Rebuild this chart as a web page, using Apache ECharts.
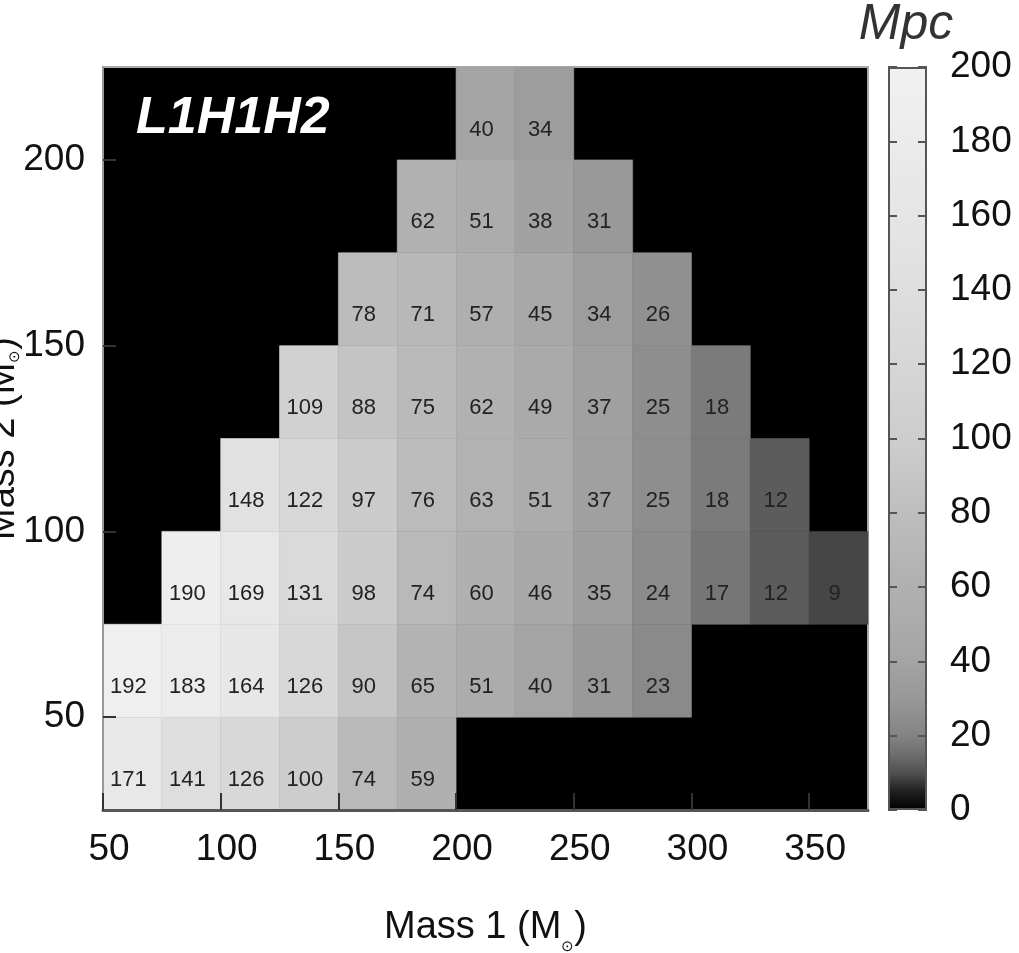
<!DOCTYPE html>
<html>
<head>
<meta charset="utf-8">
<script src="https://cdn.jsdelivr.net/npm/echarts@6/dist/echarts.min.js"></script>
<style>
  html, body { margin: 0; padding: 0; background: #fff; }
  #chart { width: 1019px; height: 953px; }
</style>
</head>
<body>
<div id="chart"></div>
<script>
// Detection range (Mpc) on a grid of component masses, 25 Msun bins.
// Each row lists Mass 2 bin centre, the first Mass 1 bin centre, and the values.
const mass2Centers = [37.5, 62.5, 87.5, 112.5, 137.5, 162.5, 187.5, 212.5];
const rowFirstMass1 = [62.5, 62.5, 87.5, 112.5, 137.5, 162.5, 187.5, 212.5];
const row375 = [171, 141, 126, 100, 74, 59];
const row625 = [192, 183, 164, 126, 90, 65, 51, 40, 31, 23];
const row875 = [190, 169, 131, 98, 74, 60, 46, 35, 24, 17, 12, 9];
const row1125 = [148, 122, 97, 76, 63, 51, 37, 25, 18, 12];
const row1375 = [109, 88, 75, 62, 49, 37, 25, 18];
const row1625 = [78, 71, 57, 45, 34, 26];
const row1875 = [62, 51, 38, 31];
const row2125 = [40, 34];
const rowValues = [row375, row625, row875, row1125, row1375, row1625, row1875, row2125];

const binWidth = 25;
const xTicks = [50, 100, 150, 200, 250, 300, 350];
const yTicks = [50, 100, 150, 200];
const colorbarTicks = [0, 20, 40, 60, 80, 100, 120, 140, 160, 180, 200];

// Build [mass1, mass2, range] cells
const cells = [];
rowValues.forEach((vals, r) => {
  vals.forEach((v, i) => {
    cells.push([rowFirstMass1[r] + i * binWidth, mass2Centers[r], v]);
  });
});

// Grey palette (non-linear, steep near zero)
const grayAnchors = [[0,0],[5,32],[10,80],[15,110],[20,131],[30,152],[40,164],[50,171],[60,176],[75,186],[90,198],[100,205],[125,216],[150,226],[175,234],[200,241]];
function grayAt(v) {
  for (let i = 1; i < grayAnchors.length; i++) {
    const [v0, g0] = grayAnchors[i - 1], [v1, g1] = grayAnchors[i];
    if (v <= v1) return g0 + (g1 - g0) * (v - v0) / (v1 - v0);
  }
  return grayAnchors[grayAnchors.length - 1][1];
}
function grayHex(g) {
  const h = Math.round(g).toString(16).padStart(2, '0');
  return '#' + h + h + h;
}
const paletteColors = [];
const gradientStops = [];
for (let v = 0; v <= 200; v += 5) {
  const c = grayHex(grayAt(v));
  paletteColors.push(c);
  gradientStops.push({ offset: 1 - v / 200, color: c });
}
gradientStops.reverse();

const sans = '"Liberation Sans", Arial, sans-serif';

function nameRich(subDrop) {
  return {
    m: { fontFamily: sans, fontSize: 38, lineHeight: 44, color: '#111', verticalAlign: 'top' },
    s: { fontFamily: sans, fontSize: 15, lineHeight: 17, color: '#111', verticalAlign: 'top', padding: [subDrop, 0, 0, 0] }
  };
}

const chart = echarts.init(document.getElementById('chart'), null, { renderer: 'canvas' });

const option = {
  backgroundColor: '#fff',
  animation: false,
  grid: [
    { left: 103, top: 67, width: 765, height: 743, show: true, backgroundColor: '#000',
      borderColor: '#aaa', borderWidth: 2, containLabel: false, outerBoundsMode: 'none' },
    { left: 888, top: 67, width: 39, height: 743, containLabel: false, outerBoundsMode: 'none' }
  ],
  visualMap: {
    show: false, type: 'continuous', min: 0, max: 200, dimension: 2, seriesIndex: 0,
    inRange: { color: paletteColors }
  },
  xAxis: [
    {
      gridIndex: 0, type: 'value', min: 50, max: 375, z: 5,
      name: '{m|Mass 1 (M}{s|⊙}{m|)}', nameLocation: 'middle', nameGap: 99, nameMoveOverlap: false,
      nameTextStyle: { rich: nameRich(30) },
      splitLine: { show: false },
      axisLine: { show: true, lineStyle: { color: '#555', width: 3 } },
      axisTick: { show: true, inside: true, length: 17, customValues: xTicks, lineStyle: { color: '#333', width: 2 } },
      axisLabel: { customValues: xTicks, fontFamily: sans, fontSize: 37, color: '#111', margin: 21, padding: [0, 0, 0, 12] }
    },
    {
      gridIndex: 1, type: 'category', data: ['Mpc'], show: false
    }
  ],
  yAxis: [
    {
      gridIndex: 0, type: 'value', min: 25, max: 225, z: 5,
      name: '{m|Mass 2 (M}{s|⊙}{m|)}', nameLocation: 'middle', nameGap: 74, nameRotate: 90, nameMoveOverlap: false,
      nameTextStyle: { rich: nameRich(22) },
      splitLine: { show: false },
      axisLine: { show: true, lineStyle: { color: '#999', width: 2 } },
      axisTick: { show: true, inside: true, length: 13, customValues: yTicks, lineStyle: { color: '#333', width: 2 } },
      axisLabel: { customValues: yTicks, fontFamily: sans, fontSize: 37, color: '#111', margin: 18 }
    },
    {
      gridIndex: 1, type: 'value', min: 0, max: 200, interval: 20, position: 'left', z: 5,
      splitLine: { show: false }, axisLine: { show: false }, axisLabel: { show: false },
      axisTick: { show: true, inside: true, length: 9, lineStyle: { color: '#555', width: 2 } }
    },
    {
      gridIndex: 1, type: 'value', min: 0, max: 200, interval: 20, position: 'right', z: 5,
      splitLine: { show: false }, axisLine: { show: false },
      axisTick: { show: true, inside: true, length: 9, lineStyle: { color: '#555', width: 2 } },
      axisLabel: { fontFamily: sans, fontSize: 37, color: '#111', margin: 23, customValues: colorbarTicks }
    }
  ],
  series: [
    {
      type: 'custom',
      coordinateSystem: 'cartesian2d',
      xAxisIndex: 0, yAxisIndex: 0,
      encode: { x: 0, y: 1 },
      data: cells,
      z: 2,
      renderItem: function (params, api) {
        const x = api.value(0), y = api.value(1), v = api.value(2);
        const half = binWidth / 2;
        const p0 = api.coord([x - half, y + half]);
        const p1 = api.coord([x + half, y - half]);
        const color = api.visual('color');
        return {
          type: 'group',
          children: [
            {
              type: 'rect',
              shape: { x: p0[0], y: p0[1], width: p1[0] - p0[0], height: p1[1] - p0[1] },
              style: { fill: color, stroke: color, lineWidth: 0.6 }
            },
            {
              type: 'text',
              x: (p0[0] + p1[0]) / 2 - 4,
              y: (p0[1] + p1[1]) / 2 + 16,
              style: {
                text: String(v), fill: '#222', fontFamily: sans, fontSize: 22,
                align: 'center', verticalAlign: 'middle'
              }
            }
          ]
        };
      }
    },
    {
      type: 'bar',
      xAxisIndex: 1, yAxisIndex: 1,
      data: [200],
      barWidth: '100%',
      silent: true,
      itemStyle: {
        color: new echarts.graphic.LinearGradient(0, 0, 0, 1, gradientStops),
        borderColor: '#555', borderWidth: 2
      }
    }
  ],
  graphic: [
    {
      type: 'text', left: 136, top: 93, z: 10,
      style: { text: 'L1H1H2', fill: '#fff', fontFamily: sans, fontSize: 52, fontWeight: 'bold', fontStyle: 'italic' }
    },
    {
      type: 'text', x: 906, y: 25, z: 10,
      style: { text: 'Mpc', fill: '#333', fontFamily: sans, fontSize: 50, fontStyle: 'italic', align: 'center', verticalAlign: 'middle' }
    }
  ]
};

chart.setOption(option);
</script>
</body>
</html>
